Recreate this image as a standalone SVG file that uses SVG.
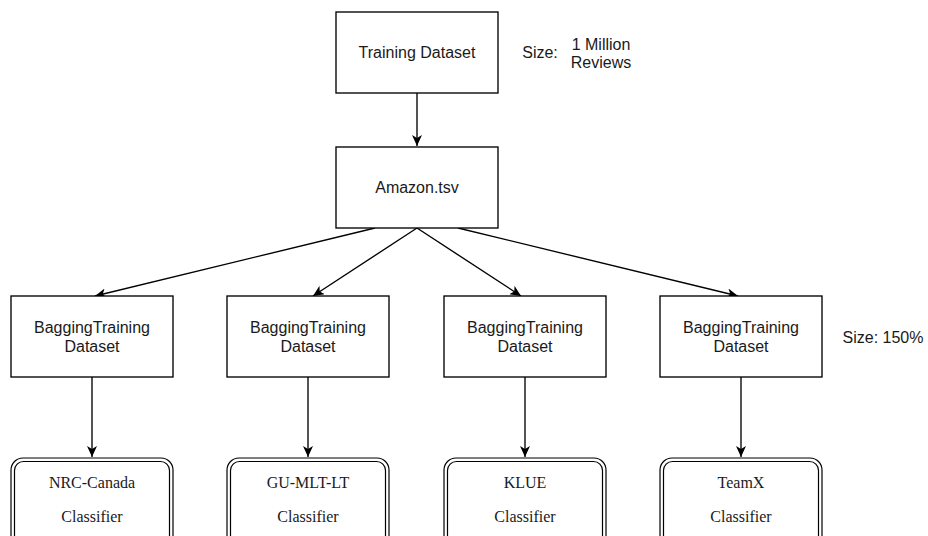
<svg xmlns="http://www.w3.org/2000/svg" width="928" height="536" viewBox="0 0 928 536">
<style>
.box{fill:#fff;stroke:#000;stroke-width:1.35}
.cls{fill:#fff;stroke:#000;stroke-width:1.2}
.t{font-family:"Liberation Sans",Arial,sans-serif;font-size:16px;fill:#1a1a1a;text-anchor:middle}
.s{font-family:"Liberation Serif","Times New Roman",serif;font-size:16px;fill:#1a1a1a;text-anchor:middle}
.e{fill:none;stroke:#000;stroke-width:1.35}
</style>
<defs>
<marker id="arr" markerUnits="userSpaceOnUse" markerWidth="12" markerHeight="10" refX="11" refY="5" orient="auto">
<path d="M0,0 L11,5 L0,10 L3,5 z" fill="#000"/>
</marker>
</defs>
<rect width="928" height="536" fill="#fff"/>
<g id="connectors">
<line class="e" x1="417" y1="93" x2="417" y2="146" marker-end="url(#arr)"/>
<line class="e" x1="375" y1="228" x2="95" y2="296" marker-end="url(#arr)"/>
<line class="e" x1="417" y1="228" x2="313" y2="296" marker-end="url(#arr)"/>
<line class="e" x1="417" y1="228" x2="521" y2="296" marker-end="url(#arr)"/>
<line class="e" x1="458" y1="228" x2="738" y2="296" marker-end="url(#arr)"/>
<line class="e" x1="92" y1="377" x2="92" y2="457" marker-end="url(#arr)"/>
<line class="e" x1="308" y1="377" x2="308" y2="457" marker-end="url(#arr)"/>
<line class="e" x1="525" y1="377" x2="525" y2="457" marker-end="url(#arr)"/>
<line class="e" x1="741" y1="377" x2="741" y2="457" marker-end="url(#arr)"/>
</g>
<g id="training">
<rect class="box" x="336" y="12" width="162" height="81"/>
<text class="t" x="417" y="58">Training Dataset</text>
</g>
<g id="size1">
<text class="t" x="540" y="58">Size:</text>
<text class="t" x="601" y="50">1 Million</text>
<text class="t" x="601" y="68">Reviews</text>
</g>
<g id="amazon">
<rect class="box" x="336" y="147" width="162" height="81"/>
<text class="t" x="417" y="193">Amazon.tsv</text>
</g>
<g id="bag1">
<rect class="box" x="11" y="296" width="162" height="81"/>
<text class="t" x="92" y="333">BaggingTraining</text>
<text class="t" x="92" y="352">Dataset</text>
</g>
<g id="bag2">
<rect class="box" x="227" y="296" width="162" height="81"/>
<text class="t" x="308" y="333">BaggingTraining</text>
<text class="t" x="308" y="352">Dataset</text>
</g>
<g id="bag3">
<rect class="box" x="444" y="296" width="162" height="81"/>
<text class="t" x="525" y="333">BaggingTraining</text>
<text class="t" x="525" y="352">Dataset</text>
</g>
<g id="bag4">
<rect class="box" x="660" y="296" width="162" height="81"/>
<text class="t" x="741" y="333">BaggingTraining</text>
<text class="t" x="741" y="352">Dataset</text>
</g>
<g id="size2">
<text class="t" x="883" y="343">Size: 150%</text>
</g>
<g id="c1">
<rect class="cls" x="11" y="458" width="162" height="100" rx="12"/>
<rect class="cls" x="14.5" y="461.5" width="155" height="100" rx="9"/>
<text class="s" x="92" y="488">NRC-Canada</text>
<text class="s" x="92" y="522">Classifier</text>
</g>
<g id="c2">
<rect class="cls" x="227" y="458" width="162" height="100" rx="12"/>
<rect class="cls" x="230.5" y="461.5" width="155" height="100" rx="9"/>
<text class="s" x="308" y="488">GU-MLT-LT</text>
<text class="s" x="308" y="522">Classifier</text>
</g>
<g id="c3">
<rect class="cls" x="444" y="458" width="162" height="100" rx="12"/>
<rect class="cls" x="447.5" y="461.5" width="155" height="100" rx="9"/>
<text class="s" x="525" y="488">KLUE</text>
<text class="s" x="525" y="522">Classifier</text>
</g>
<g id="c4">
<rect class="cls" x="660" y="458" width="162" height="100" rx="12"/>
<rect class="cls" x="663.5" y="461.5" width="155" height="100" rx="9"/>
<text class="s" x="741" y="488">TeamX</text>
<text class="s" x="741" y="522">Classifier</text>
</g>
</svg>
